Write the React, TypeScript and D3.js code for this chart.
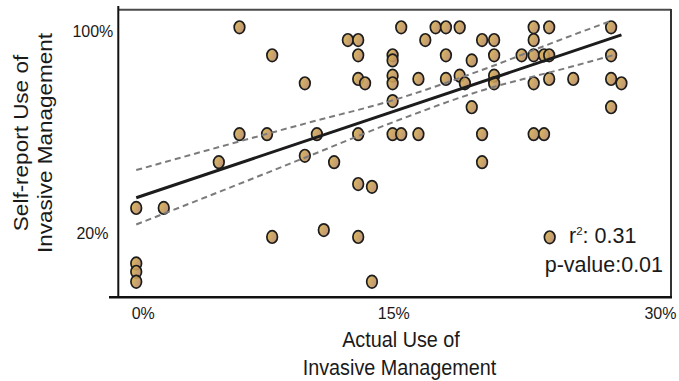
import React, { useEffect, useRef } from "react";
import * as d3 from "d3";

// one entry per respondent (percent)
const actualUse = [
  6.0, 15.4, 17.4, 18.0, 18.8, 23.1, 24.0, 27.6,
  12.3, 12.9, 16.8, 20.1, 20.8, 23.1,
  7.9, 12.9, 14.9, 18.0, 20.8, 22.4, 23.1, 23.7, 24.0, 27.6,
  14.9, 19.5,
  14.9, 18.8, 20.8,
  12.9, 16.4, 18.0, 24.0, 25.4, 27.6,
  9.8, 13.3, 14.9, 19.1, 20.8, 23.1, 28.2,
  14.9,
  19.5, 27.6,
  6.0, 7.6, 10.5, 12.9, 14.9, 15.4, 16.4, 20.1, 23.1, 23.7,
  9.8,
  4.8, 11.5, 20.1,
  12.9, 13.7,
  0, 1.6,
  10.9,
  7.9, 12.9,
  0, 0, 0, 13.7,
];
const selfReport = [
  100, 100, 100, 100, 100, 100, 100, 100,
  95, 95, 95, 95, 95, 95,
  89, 89, 89, 89, 89, 89, 89, 89, 89, 89,
  87, 87,
  81, 81, 81,
  79.7, 79.7, 79.7, 79.7, 79.7, 79.7,
  78, 78, 78, 78, 78, 78, 78,
  71,
  68.6, 68.6,
  58, 58, 58, 58, 58, 58, 58, 58, 58, 58,
  49.5,
  47, 47, 47,
  38.4, 37.3,
  29, 29,
  20.3,
  17.6, 17.6,
  7.2, 3.9, 0, 0,
];

// fitted line and its confidence band, as drawn in the figure
const fitX = [0, 28.2];
const fitY = [33, 97];
const bandX = [0, 5, 10, 15, 20, 25, 27.7];
const bandUpper = [43.9, 53.3, 62.5, 71.5, 83.0, 96.0, 102.8];
const bandLower = [22.5, 35.8, 49.3, 62.9, 75.0, 84.0, 89.0];

const xTicks = [0, 15, 30];
const yTicks = [20, 100];
const r2 = "0.31";
const pValue = "0.01";

const W = 679;
const H = 381;
const frame = { left: 118, right: 671, top: 9, bottom: 297 };
const font = "'Liberation Sans', Arial, Helvetica, sans-serif";

export default function App() {
  const svgRef = useRef<SVGSVGElement>(null);

  useEffect(() => {
    const svg = d3.select(svgRef.current);
    svg.selectAll("*").remove();

    const x = d3.scaleLinear().domain([-1.06, 31.08]).range([frame.left, frame.right]);
    const y = d3.scaleLinear().domain([-6.0, 107.2]).range([frame.bottom, frame.top]);

    const grad = svg
      .append("defs")
      .append("linearGradient")
      .attr("id", "dotFill")
      .attr("x1", 0)
      .attr("y1", 0)
      .attr("x2", 1)
      .attr("y2", 0.4);
    grad.append("stop").attr("offset", "0%").attr("stop-color", "#dcb64a");
    grad.append("stop").attr("offset", "100%").attr("stop-color", "#b88a68");

    // frame: heavy left/bottom axes, lighter top/right border
    svg.append("line").attr("x1", frame.left).attr("x2", frame.right)
      .attr("y1", frame.top + 0.7).attr("y2", frame.top + 0.7)
      .attr("stroke", "#4a4a4a").attr("stroke-width", 2);
    svg.append("line").attr("x1", frame.right).attr("x2", frame.right)
      .attr("y1", frame.top).attr("y2", frame.bottom)
      .attr("stroke", "#333").attr("stroke-width", 2);
    svg.append("line").attr("x1", frame.left + 0.3).attr("x2", frame.left + 0.3)
      .attr("y1", frame.top - 3).attr("y2", frame.bottom)
      .attr("stroke", "#111").attr("stroke-width", 2);
    svg.append("line").attr("x1", frame.left - 9).attr("x2", frame.right + 1)
      .attr("y1", frame.bottom + 0.2).attr("y2", frame.bottom + 0.2)
      .attr("stroke", "#111").attr("stroke-width", 2.6);

    const dot = (sel: any) =>
      sel
        .attr("rx", 5.3)
        .attr("ry", 6.3)
        .attr("fill", "url(#dotFill)")
        .attr("fill-opacity", 0.9)
        .attr("stroke", "#1c1c1c")
        .attr("stroke-width", 1.7);

    svg
      .append("g")
      .selectAll("ellipse")
      .data(d3.range(actualUse.length))
      .join("ellipse")
      .attr("cx", (i) => x(actualUse[i]))
      .attr("cy", (i) => y(selfReport[i]))
      .call(dot);

    // confidence band
    const band = (vals: number[]) =>
      d3
        .line<number>()
        .x((_, i) => x(bandX[i]))
        .y((d) => y(d))
        .curve(d3.curveMonotoneX)(vals);

    [bandUpper, bandLower].forEach((vals) => {
      svg
        .append("path")
        .attr("d", band(vals))
        .attr("fill", "none")
        .attr("stroke", "#7b7b7b")
        .attr("stroke-width", 2)
        .attr("stroke-dasharray", "6,4");
    });

    svg
      .append("path")
      .attr(
        "d",
        d3
          .line<number>()
          .x((d) => x(d))
          .y((_, i) => y(fitY[i]))(fitX)
      )
      .attr("fill", "none")
      .attr("stroke", "#1c1c1c")
      .attr("stroke-width", 3);

    // tick labels (nudged to where the figure puts them)
    const xNudge: Record<number, number> = { 0: 7, 15: -0.5, 30: 8 };
    svg
      .append("g")
      .selectAll("text")
      .data(xTicks)
      .join("text")
      .attr("x", (d) => x(d) + xNudge[d])
      .attr("y", frame.bottom + 21.5)
      .attr("text-anchor", "middle")
      .style("font-size", "16px")
      .text((d) => `${d}%`);

    const yNudge: Record<number, [number, number]> = { 20: [108.5, 8.3], 100: [113.3, 10] };
    svg
      .append("g")
      .selectAll("text")
      .data(yTicks)
      .join("text")
      .attr("x", (d) => yNudge[d][0])
      .attr("y", (d) => y(d) + yNudge[d][1])
      .attr("text-anchor", "end")
      .style("font-size", "16px")
      .text((d) => `${d}%`);

    // axis titles
    [["Actual Use of", 401, 346.5], ["Invasive Management", 399.5, 374.5]].forEach(([t, tx, ty]) => {
      svg
        .append("text")
        .attr("transform", `translate(${tx},${ty}) scale(0.88,1)`)
        .attr("text-anchor", "middle")
        .style("font-size", "22.5px")
        .text(t as string);
    });
    [["Self-report Use of", 27.5], ["Invasive Management", 51.5]].forEach(([t, tx]) => {
      svg
        .append("text")
        .attr("transform", `translate(${tx},143) scale(0.88,1) rotate(-90)`)
        .attr("text-anchor", "middle")
        .style("font-size", "22.5px")
        .text(t as string);
    });

    // stats legend
    svg.append("ellipse").attr("cx", 549.7).attr("cy", 237.3).call(dot);
    const r2Text = svg
      .append("text")
      .attr("x", 569)
      .attr("y", 242.7)
      .style("font-size", "21.5px");
    r2Text.append("tspan").text("r");
    r2Text.append("tspan").attr("dy", -7.7).style("font-size", "11.5px").text("2");
    r2Text.append("tspan").attr("dy", 7.7).text(`: ${r2}`);
    svg
      .append("text")
      .attr("x", 544.7)
      .attr("y", 271.7)
      .style("font-size", "21.5px")
      .text(`p-value:${pValue}`);
  }, []);

  return (
    <svg
      ref={svgRef}
      width={W}
      height={H}
      style={{ position: "absolute", left: 0, top: 0, fontFamily: font, background: "#fff" }}
      fill="#1a1a1a"
    />
  );
}
